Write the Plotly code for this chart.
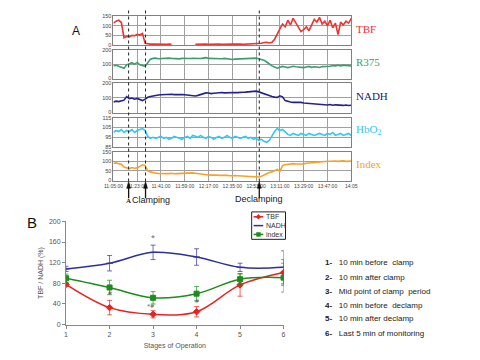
import plotly.graph_objects as go

# ---------------- Panel A data (minutes after 11:05:00, 2-min samples) ----------------
time_min = list(range(0, 182, 2))

tbf_a = [115,125,130,118,38,45,42,50,48,55,
         52,60,8,5,4,5,4,4,3,4,
         3,4,3,None,None,None,None,None,None,None,
         None,3,4,3,4,4,3,4,3,4,
         4,3,4,4,3,4,4,5,4,3,
         4,4,5,4,5,6,9,13,14,10,
         14,30,60,85,110,95,130,105,140,115,
         90,70,80,95,75,110,135,120,145,110,
         125,100,130,90,115,55,120,105,125,115,
         140]
r375_a = [88,92,85,80,72,95,105,110,100,112,
          95,88,85,110,135,140,142,138,140,141,
          139,142,140,138,139,137,140,138,136,139,
          140,138,141,139,142,145,140,139,141,138,
          136,138,140,137,134,132,135,136,138,137,
          139,137,140,138,142,138,135,128,115,100,
          88,80,72,78,84,80,76,80,85,82,
          80,78,76,80,84,78,82,80,77,83,
          82,86,85,90,88,92,88,93,90,91,
          88]
nadh_a = [72,78,75,80,85,110,95,100,92,97,
          88,82,92,105,110,115,118,120,122,124,
          125,124,126,123,125,127,124,122,120,118,
          116,114,118,125,132,135,134,130,133,136,
          134,138,135,137,136,139,138,137,140,139,
          140,141,143,145,147,142,135,128,120,115,
          110,106,104,115,108,82,76,72,70,71,
          68,70,66,64,65,60,62,58,55,56,
          54,52,55,50,53,51,54,49,52,48,
          50]
hbo2_a = [100,102,101,103,100,102,101,103,100,102,
          103,104,102,96,94,95,94,95,96,94,
          95,93,94,96,95,94,93,95,96,94,
          97,96,95,97,95,94,96,95,93,95,
          96,94,95,97,95,94,96,95,94,95,
          96,94,95,93,94,92,93,91,90,92,
          97,101,104,102,103,100,98,97,99,98,
          97,99,98,97,99,98,97,98,99,98,
          97,99,98,100,97,98,99,97,98,99,
          97]
index_a = [90,92,88,85,70,65,62,68,64,66,
           75,82,78,50,45,40,38,37,36,38,
           37,36,38,35,36,37,35,38,40,41,
           40,38,36,32,30,31,29,28,30,29,
           27,28,26,27,25,27,26,25,24,26,
           25,24,23,22,20,18,22,30,38,42,
           45,52,58,48,78,82,85,87,88,86,
           86,88,87,90,92,91,93,95,96,98,
           99,100,98,101,102,100,101,103,100,102,
           101]

a_tickvals = [0, 18, 36, 54, 72, 90, 108, 126, 144, 162, 180]
a_ticktext = ["11:05:00", "11:23:00", "11:41:00", "11:59:00", "12:17:00", "12:35:00",
              "12:53:00", "13:11:00", "13:29:00", "13:47:00", "14:05"]
event_times = [11.5, 24.3, 110.4]   # A, clamping, declamping

# ---------------- Panel B data ----------------
stages = [1, 2, 3, 4, 5, 6]
tbf_b = [78, 33, 20, 25, 77, 101]
tbf_err = [4, 14, 7, 10, 22, 25]
nadh_b = [108, 119, 140, 131, 111, 111]
nadh_err = [5, 15, 14, 16, 8, 32]
index_b = [90, 72, 52, 60, 88, 91]
index_err = [8, 14, 12, 14, 10, 28]

stage_notes = ["10 min before  clamp", "10 min after clamp", "Mid point of clamp  period",
               "10 min before  declamp", "10 min after declamp", "Last 5 min of monitoring"]


def px(p):
    return p / 480.0


def py(p):
    return 1 - p / 360.0


fig = go.Figure()

rows = [
    ("TBF", tbf_a, "#ee3333", [0, 150], [0, 50, 100, 150], (12.7, 41.7)),
    ("R375", r375_a, "#3a9e6e", [0, 200], [0, 100, 200], (46.7, 76.0)),
    ("NADH", nadh_a, "#22228a", [0, 200], [0, 100, 200], (81.0, 110.7)),
    ("HbO<sub>2</sub>", hbo2_a, "#33c6f0", [85, 115], [85, 95, 105, 115], (116.0, 146.0)),
    ("Index", index_a, "#f5a327", [0, 150], [0, 50, 100, 150], (150.7, 180.0)),
]
label_colors = ["#ee3333", "#3a9e6e", "#22226e", "#33c6f0", "#f5a327"]

shapes = []
annotations = []
layout_axes = {}
for i, (name, vals, col, yr, ytv, (top, bot)) in enumerate(rows):
    n = i + 1
    xs = "x" if n == 1 else "x%d" % n
    ys = "y" if n == 1 else "y%d" % n
    fig.add_trace(go.Scatter(x=time_min, y=vals, mode="lines", xaxis=xs, yaxis=ys,
                             line=dict(color=col, width=1.6), showlegend=False,
                             connectgaps=False, hoverinfo="skip"))
    xk = "xaxis" if n == 1 else "xaxis%d" % n
    yk = "yaxis" if n == 1 else "yaxis%d" % n
    layout_axes[xk] = dict(domain=[px(107), px(353)], range=[0, 180], anchor=ys,
                           tickvals=a_tickvals, ticktext=a_ticktext, tickangle=0,
                           showticklabels=(n == 5), showgrid=True, gridcolor="#a0a0a0",
                           gridwidth=1, showline=True, mirror=True, linecolor="#808080",
                           linewidth=1, zeroline=False, ticks="",
                           tickfont=dict(size=5, color="#444", family="Liberation Sans"))
    layout_axes[yk] = dict(domain=[py(bot), py(top)], range=yr, anchor=xs,
                           tickvals=ytv, showgrid=True, gridcolor="#a0a0a0",
                           showline=True, mirror=True, linecolor="#808080",
                           zeroline=False, ticks="",
                           tickfont=dict(size=5.5, color="#444", family="Liberation Sans"))
    annotations.append(dict(x=px(356), y=py((top + bot) / 2 - 2), xref="paper", yref="paper",
                            text=name, showarrow=False, xanchor="left", yanchor="middle",
                            font=dict(family="Liberation Serif", size=11, color=label_colors[i])))

# ---------------- Panel B traces ----------------
b_series = [("TBF", tbf_b, tbf_err, "#e82222", "diamond", 5),
            ("NADH", nadh_b, nadh_err, "#2f2f9c", "line-ew-open", 5),
            ("index", index_b, index_err, "#1c8c1c", "square", 5)]
for name, vals, err, col, sym, ms in b_series:
    fig.add_trace(go.Scatter(x=stages, y=vals, mode="lines+markers", name=name,
                             xaxis="x6", yaxis="y6", showlegend=False,
                             line=dict(color=col, width=1.5, shape="spline", smoothing=1.0),
                             marker=dict(symbol=sym, size=ms, color=col,
                                         line=dict(color=col, width=1)),
                             error_y=dict(type="data", array=err, visible=True,
                                          color=col, thickness=0.7, width=2.5),
                             hoverinfo="skip"))

layout_axes["xaxis6"] = dict(domain=[px(58), px(283)], range=[1, 6], anchor="y6",
                             tickvals=stages, showgrid=False, zeroline=False,
                             showline=True, linecolor="#888", ticks="outside", ticklen=3,
                             tickcolor="#888",
                             tickfont=dict(size=7, color="#555", family="Liberation Sans"),
                             title=dict(text="Stages of Operation", standoff=6,
                                        font=dict(size=7, color="#555", family="Liberation Sans")))
layout_axes["yaxis6"] = dict(domain=[py(327), py(221.7)], range=[0, 200], anchor="x6",
                             tickvals=[0, 40, 80, 120, 160, 200], showgrid=False,
                             zeroline=False, showline=True, linecolor="#888",
                             ticks="outside", ticklen=3, tickcolor="#888",
                             tickfont=dict(size=7, color="#555", family="Liberation Sans"),
                             title=dict(text="TBF / NADH (%)", standoff=4,
                                        font=dict(size=7, color="#555", family="Liberation Sans")))

# manual legend for panel B
shapes.append(dict(type="rect", xref="paper", yref="paper", x0=px(250), x1=px(285),
                   y0=py(240), y1=py(212), line=dict(color="#222", width=1),
                   fillcolor="white"))
leg_y = [217, 226, 235]
for (name, vals, err, col, sym, ms), ly in zip(b_series, leg_y):
    shapes.append(dict(type="line", xref="paper", yref="paper", x0=px(252), x1=px(262),
                       y0=py(ly), y1=py(ly), line=dict(color=col, width=1.5)))
    if sym == "diamond":
        shapes.append(dict(type="path", xref="paper", yref="paper",
                           path="M %f,%f L %f,%f L %f,%f L %f,%f Z" % (
                               px(257), py(ly - 2.5), px(259.5), py(ly), px(257), py(ly + 2.5),
                               px(254.5), py(ly)),
                           fillcolor=col, line=dict(color=col, width=0.5)))
    elif sym == "square":
        shapes.append(dict(type="rect", xref="paper", yref="paper", x0=px(255), x1=px(259),
                           y0=py(ly + 2), y1=py(ly - 2), fillcolor=col,
                           line=dict(color=col, width=0.5)))
    annotations.append(dict(x=px(263), y=py(ly), xref="paper", yref="paper", text=name,
                            showarrow=False, xanchor="left", yanchor="middle",
                            font=dict(size=7, color="#333", family="Liberation Sans")))

# ---------------- event lines / arrows ----------------
hw = 1.5  # arrow-head half width (minutes)
for t in event_times:
    shapes.append(dict(type="line", xref="x5", yref="paper", x0=t, x1=t,
                       y0=py(181), y1=py(4), line=dict(color="#222", width=1, dash="dot")))
    shapes.append(dict(type="line", xref="x5", yref="paper", x0=t, x1=t,
                       y0=py(198), y1=py(184), line=dict(color="#111", width=1.3)))
    shapes.append(dict(type="path", xref="x5", yref="paper",
                       path="M %f,%f L %f,%f L %f,%f Z" % (t - hw, py(188), t, py(181),
                                                           t + hw, py(188)),
                       fillcolor="#111", line=dict(color="#111", width=0.5)))

annotations += [
    dict(x=event_times[0], y=py(201), xref="x5", yref="paper", text="<b>A</b>",
         showarrow=False, font=dict(family="Liberation Serif", size=7, color="#222")),
    dict(x=px(124), y=py(200), xref="paper", yref="paper", text="Clamping",
         showarrow=False, xanchor="left", font=dict(family="Liberation Sans", size=9, color="#222")),
    dict(x=px(258), y=py(199), xref="paper", yref="paper", text="Declamping",
         showarrow=False, xanchor="center", font=dict(family="Liberation Sans", size=9, color="#222")),
    dict(x=px(62), y=py(28), xref="paper", yref="paper", text="A", showarrow=False,
         xanchor="left", yanchor="middle",
         font=dict(family="Liberation Sans", size=12, color="#111")),
    dict(x=px(16), y=py(223), xref="paper", yref="paper", text="B", showarrow=False,
         xanchor="left", font=dict(family="Liberation Sans", size=15, color="#111")),
    dict(x=3, y=168, xref="x6", yref="y6", text="*", showarrow=False,
         font=dict(size=7, color="#555")),
    dict(x=2.93, y=37, xref="x6", yref="y6", text="*#", showarrow=False,
         font=dict(size=6, color="#555")),
    dict(x=2, y=61, xref="x6", yref="y6", text="#", showarrow=False,
         font=dict(size=6, color="#555")),
    dict(x=4, y=46, xref="x6", yref="y6", text="#", showarrow=False,
         font=dict(size=6, color="#555")),
]
note_y = [264, 279, 293, 307, 321, 336]
for i, (txt, yy) in enumerate(zip(stage_notes, note_y)):
    annotations.append(dict(x=px(324), y=py(yy), xref="paper", yref="paper",
                            text="<b>%d-</b>&nbsp;&nbsp;&nbsp;%s" % (i + 1, txt),
                            showarrow=False, xanchor="left", yanchor="middle",
                            font=dict(family="Liberation Sans", size=8, color="#222")))

fig.update_layout(width=480, height=360, margin=dict(l=0, r=0, t=0, b=0),
                  paper_bgcolor="white", plot_bgcolor="white", showlegend=False,
                  shapes=shapes, annotations=annotations, **layout_axes)

fig.write_html("out.html", config={"displayModeBar": False},
               post_script="document.body.style.margin='0';document.body.style.padding='0';"
                           "document.documentElement.style.overflow='hidden';")
